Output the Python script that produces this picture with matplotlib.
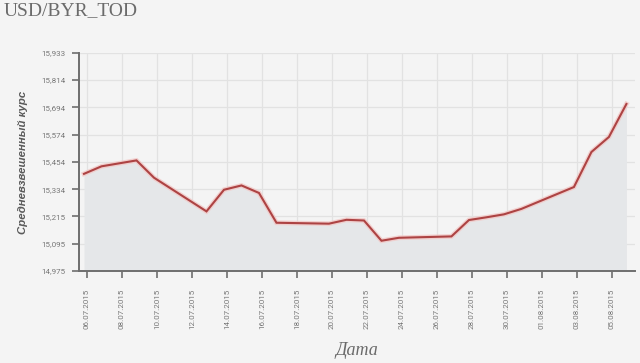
import numpy as np
import matplotlib
matplotlib.use("Agg")
import matplotlib.pyplot as plt
import matplotlib.dates as mdates
from datetime import datetime, timedelta

dates = ['2015-07-06', '2015-07-07', '2015-07-08', '2015-07-09', '2015-07-10',
         '2015-07-13', '2015-07-14', '2015-07-15', '2015-07-16', '2015-07-17',
         '2015-07-20', '2015-07-21', '2015-07-22', '2015-07-23', '2015-07-24',
         '2015-07-27', '2015-07-28', '2015-07-29', '2015-07-30', '2015-07-31',
         '2015-08-03', '2015-08-04', '2015-08-05', '2015-08-06']
values = [15402, 15435, 15448, 15461, 15385,
          15237, 15332, 15351, 15318, 15187,
          15183, 15200, 15197, 15108, 15121,
          15127, 15199, 15211, 15224, 15248,
          15344, 15498, 15564, 15709]
ytick_values = [14975, 15095, 15215, 15334, 15454, 15574, 15694, 15814, 15933]
xtick_labels = ['06.07.2015', '08.07.2015', '10.07.2015', '12.07.2015', '14.07.2015',
                '16.07.2015', '18.07.2015', '20.07.2015', '22.07.2015', '24.07.2015',
                '26.07.2015', '28.07.2015', '30.07.2015', '01.08.2015', '03.08.2015',
                '05.08.2015']
title = 'USD/BYR_TOD'
ylabel = 'Средневзвешенный курс'
xlabel = 'Дата'

bg = '#f4f4f4'
fig = plt.figure(figsize=(6.4, 3.63), dpi=100, facecolor=bg)
ax = fig.add_axes([79/640, 1-271/363, 556/640, 218/363])
ax.set_facecolor(bg)

x = [datetime.strptime(d, '%Y-%m-%d') for d in dates]
xn = mdates.date2num(x)

ax.fill_between(xn, values, ytick_values[0], color='#e5e7e9', lw=0, zorder=2)
ax.plot(xn, values, color='#f2c8c6', lw=3.4, alpha=0.8, solid_joinstyle='miter', zorder=3)
ax.plot(xn, values, color='#ad4343', lw=1.5, solid_joinstyle='miter', zorder=4)

ax.set_ylim(ytick_values[0], ytick_values[-1])
ax.set_yticks(ytick_values)
ax.set_yticklabels([f'{v:,}' for v in ytick_values])

tick_pos = [mdates.date2num(datetime.strptime(t, '%d.%m.%Y') + timedelta(hours=4)) for t in xtick_labels]
ax.set_xticks(tick_pos)
ax.set_xticklabels(xtick_labels, rotation=90, va='top', ha='center')
x0 = mdates.date2num(x[0])
ax.set_xlim(x0 - 0.286, x0 + 31.49)

ax.grid(True, color='#e2e2e2', lw=0.9, zorder=1)
ax.set_axisbelow(True)
for s in ['top', 'right']:
    ax.spines[s].set_visible(False)
for s in ['left', 'bottom']:
    ax.spines[s].set_color('#6e6e6e')
    ax.spines[s].set_linewidth(1.4)
    ax.spines[s].set_zorder(5)

ax.tick_params(axis='y', length=5, width=1.2, color='#6e6e6e', pad=5,
               labelsize=5.8, labelcolor='#777777')
ax.tick_params(axis='x', length=5, width=1.2, color='#6e6e6e', pad=8,
               labelsize=5.8, labelcolor='#777777')
for lab in ax.get_xticklabels() + ax.get_yticklabels():
    lab.set_family('Roboto')

ax.set_ylabel(ylabel, family='Liberation Sans', fontsize=8.2, fontweight='bold',
              style='italic', color='#5a5a5a')
ax.yaxis.set_label_coords((28 - 79) / 556, 0.5)
ax.set_xlabel(xlabel, family='Liberation Serif', fontsize=13, style='italic',
              color='#6a6a6a')
ax.xaxis.set_label_coords(0.5, -(342 - 271) / 218)

fig.text(4/640, 1-2/363, title, family='Liberation Serif', fontsize=14,
         color='#6b6b6b', ha='left', va='top')

fig.savefig('out.png', dpi=100, facecolor=bg)
